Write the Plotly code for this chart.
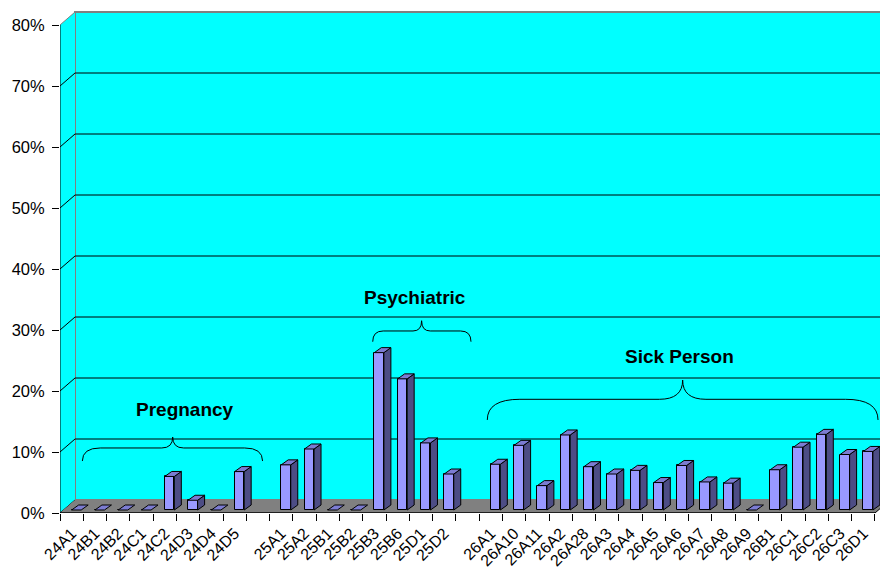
import plotly.graph_objects as go

# ---- data -------------------------------------------------------------
pregnancy_codes = ["24A1", "24B1", "24B2", "24C1", "24C2", "24D3", "24D4", "24D5"]
pregnancy_values = [0.0, 0.0, 0.0, 0.0, 0.055, 0.016, 0.0, 0.063]

psychiatric_codes = ["25A1", "25A2", "25B1", "25B2", "25B3", "25B6", "25D1", "25D2"]
psychiatric_values = [0.074, 0.100, 0.0, 0.0, 0.258, 0.215, 0.110, 0.059]

sick_codes = ["26A1", "26A10", "26A11", "26A2", "26A28", "26A3", "26A4", "26A5",
              "26A6", "26A7", "26A8", "26A9", "26B1", "26C1", "26C2", "26C3", "26D1"]
sick_values = [0.075, 0.106, 0.040, 0.123, 0.071, 0.059, 0.065, 0.045,
               0.073, 0.046, 0.044, 0.0, 0.066, 0.103, 0.124, 0.091, 0.096]

group_names = ["Pregnancy", "Psychiatric", "Sick Person"]
y_tick_values = [0.0, 0.1, 0.2, 0.3, 0.4, 0.5, 0.6, 0.7, 0.8]

# ---- slot layout: one empty slot between groups ------------------------
groups = [(pregnancy_codes, pregnancy_values),
          (psychiatric_codes, psychiatric_values),
          (sick_codes, sick_values)]
codes, values, xs = [], [], []
pos = 0
for gc, gv in groups:
    for c, v in zip(gc, gv):
        codes.append(c)
        values.append(v)
        xs.append(pos)
        pos += 1
    pos += 1
n_slots = pos - 1                     # 35 slots
bounds = [i - 0.5 for i in range(n_slots + 1)]

# ---- 3-D look ---------------------------------------------------------
X_MIN, X_MAX = -0.5, 34.715
Y_MAX = 0.8246
WALL_DX, WALL_DY = 0.644, 0.0213      # depth of the box
BASE = 0.0049                         # bars stand slightly behind the front edge
FACE_W = 0.41                         # front face width (slots)
SIDE_DX, SIDE_DY = 0.30, 0.0082       # bar depth

FRONT = "#9999FF"
TOP = "#7C7CD2"
SIDE = "#4D4D85"
WALL = "#00FFFF"
FLOOR = "#808080"
FONT = "Liberation Sans, Arial, sans-serif"

fig = go.Figure()

# front faces
fig.add_trace(go.Bar(
    x=xs, y=values, base=BASE, width=FACE_W, offset=0,
    marker=dict(color=FRONT, line=dict(color="black", width=1)),
    hoverinfo="skip", showlegend=False,
))

# side and top faces
side_x, side_y, top_x, top_y = [], [], [], []
for x, v in zip(xs, values):
    xl, xr = x, x + FACE_W
    yt = BASE + v
    if v > 0:
        side_x += [xr, xr, xr + SIDE_DX, xr + SIDE_DX, xr, None]
        side_y += [BASE, yt, yt + SIDE_DY, BASE + SIDE_DY, BASE, None]
    top_x += [xl, xr, xr + SIDE_DX, xl + SIDE_DX, xl, None]
    top_y += [yt, yt, yt + SIDE_DY, yt + SIDE_DY, yt, None]

fig.add_trace(go.Scatter(x=side_x, y=side_y, mode="lines", fill="toself",
                         fillcolor=SIDE, line=dict(color="black", width=1),
                         hoverinfo="skip", showlegend=False))
fig.add_trace(go.Scatter(x=top_x, y=top_y, mode="lines", fill="toself",
                         fillcolor=TOP, line=dict(color="black", width=1),
                         hoverinfo="skip", showlegend=False))

# ---- box: back wall, side wall, floor, gridlines -------------------------
shapes = []
bx = X_MIN + WALL_DX
shapes.append(dict(type="rect", xref="x", yref="y", layer="below",
                   x0=bx, x1=X_MAX + 1, y0=WALL_DY, y1=0.8 + WALL_DY,
                   fillcolor=WALL, line=dict(color="#808080", width=2)))
shapes.append(dict(type="path", xref="x", yref="y", layer="below",
                   path=f"M {X_MIN},0 L {X_MIN},0.8 L {bx},{0.8 + WALL_DY} L {bx},{WALL_DY} Z",
                   fillcolor=WALL, line=dict(width=0)))
for t in y_tick_values:
    col = "#808080" if t == 0.8 else "black"
    if 0 < t < 0.8:
        shapes.append(dict(type="line", xref="x", yref="y", layer="below",
                           x0=bx, x1=X_MAX + 1, y0=t + WALL_DY, y1=t + WALL_DY,
                           line=dict(color="black", width=1)))
    shapes.append(dict(type="line", xref="x", yref="y", layer="below",
                       x0=X_MIN, x1=bx, y0=t, y1=t + WALL_DY,
                       line=dict(color=col, width=1)))
fx1 = n_slots - 0.5
shapes.append(dict(type="path", xref="x", yref="y", layer="below",
                   path=f"M {X_MIN},0 L {fx1},0 L {fx1 + WALL_DX},{WALL_DY} L {bx},{WALL_DY} Z",
                   fillcolor=FLOOR, line=dict(width=0)))
shapes.append(dict(type="line", xref="x", yref="y", layer="below",
                   x0=fx1, x1=fx1 + WALL_DX, y0=0, y1=WALL_DY,
                   line=dict(color="black", width=1)))
shapes.append(dict(type="line", xref="x", yref="y", layer="below",
                   x0=X_MIN, x1=fx1, y0=0, y1=0, line=dict(color="black", width=1.5)))
shapes.append(dict(type="line", xref="x", yref="y", layer="below",
                   x0=X_MIN, x1=X_MIN, y0=0, y1=0.8, line=dict(color="black", width=1)))


# ---- braces with group names -------------------------------------------
def brace(x0, xm, x1, y_end, y_h, y_peak, r_end, r_mid):
    return (f"M {x0},{y_end} Q {x0},{y_h} {x0 + r_end},{y_h} "
            f"L {xm - r_mid},{y_h} Q {xm},{y_h} {xm},{y_peak} "
            f"Q {xm},{y_h} {xm + r_mid},{y_h} "
            f"L {x1 - r_end},{y_h} Q {x1},{y_h} {x1},{y_end}")


brace_specs = [
    # x0, xm, x1, y_end, y_h, y_peak, r_end, r_mid, label_x, label_y
    (0.46, 4.34, 8.20, 0.0852, 0.1066, 0.1246, 0.77, 0.47, 4.86, 0.169),
    (12.93, 15.03, 17.15, 0.2808, 0.2984, 0.3152, 0.45, 0.37, 14.76, 0.3525),
    (17.85, 26.24, 34.63, 0.1525, 0.1864, 0.218, 1.40, 1.00, 26.1, 0.256),
]
annotations = []
for name, s in zip(group_names, brace_specs):
    shapes.append(dict(type="path", xref="x", yref="y", layer="above",
                       path=brace(*s[:8]), line=dict(color="black", width=1)))
    annotations.append(dict(x=s[8], y=s[9], xref="x", yref="y", text=f"<b>{name}</b>",
                            showarrow=False,
                            font=dict(family=FONT, size=19, color="black")))

fig.update_layout(
    width=880, height=568,
    margin=dict(l=60, r=0, t=10, b=55),
    paper_bgcolor="white", plot_bgcolor="white",
    shapes=shapes, annotations=annotations,
    bargap=0, showlegend=False,
    font=dict(family=FONT, size=16, color="black"),
    xaxis=dict(range=[X_MIN, X_MAX], tickvals=xs, ticktext=codes, tickangle=-45,
               ticks="", showgrid=False, zeroline=False, showline=False,
               automargin=False,
               tickfont=dict(family=FONT, size=16, color="black"),
               ticklabelstandoff=7,
               minor=dict(tickmode="array", tickvals=bounds, ticks="outside",
                          ticklen=7, tickwidth=1, tickcolor="black", showgrid=False)),
    yaxis=dict(range=[0, Y_MAX], tickvals=y_tick_values, tickformat=".0%",
               ticks="outside", ticklen=7, tickwidth=1, tickcolor="black",
               showgrid=False, zeroline=False, showline=False,
               automargin=False, ticklabelstandoff=4,
               tickfont=dict(family=FONT, size=16.5, color="black")),
)

fig.write_html("out.html")
